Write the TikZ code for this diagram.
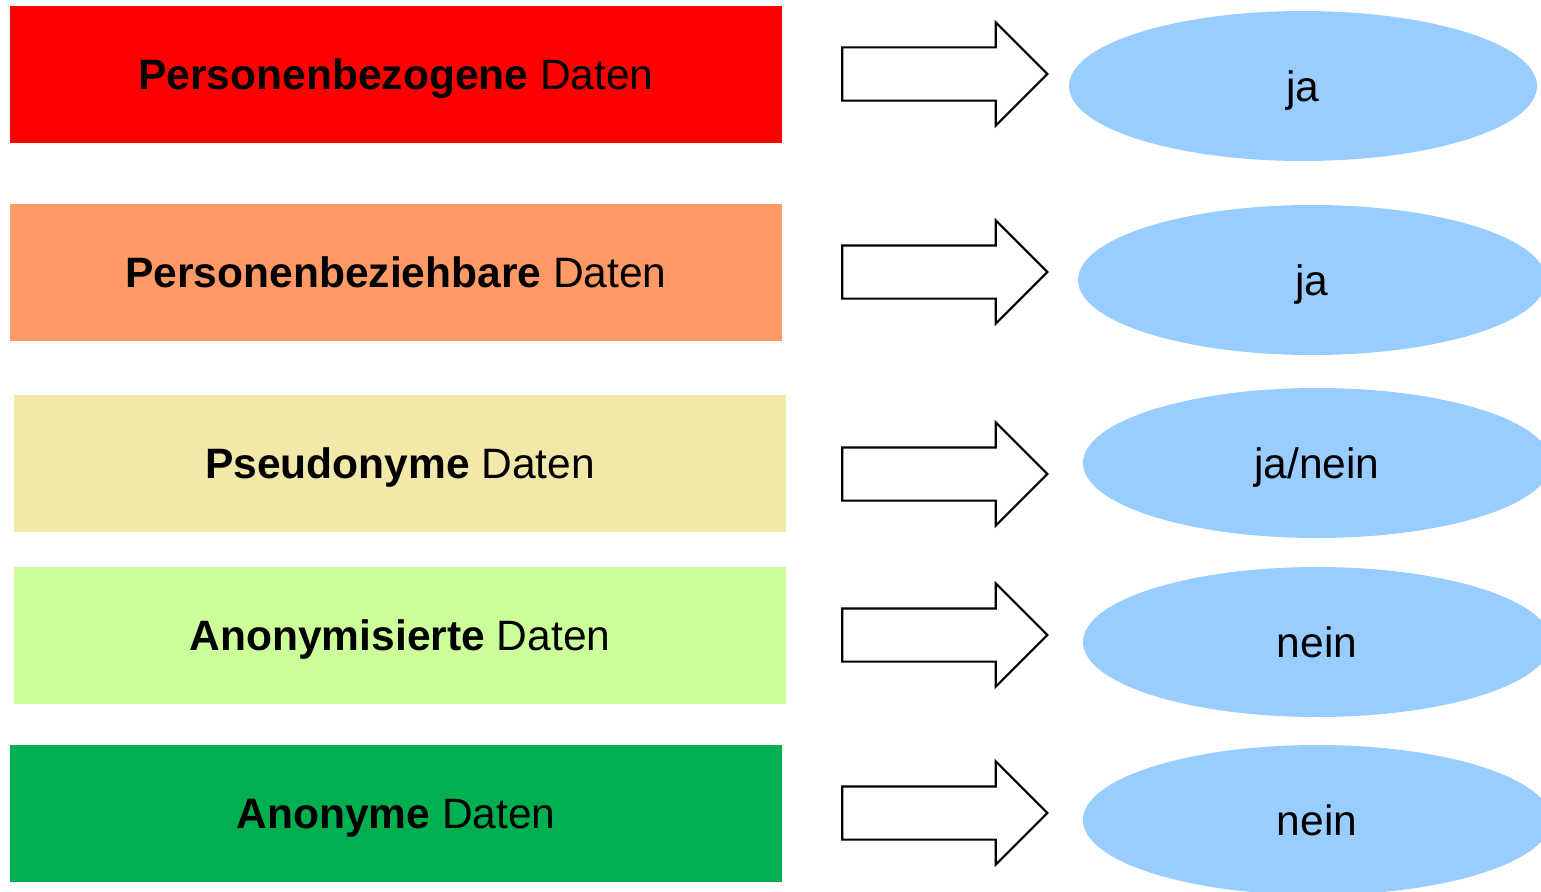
\documentclass[tikz,border=0pt]{standalone}
\usepackage{fontspec}
\setmainfont{Liberation Sans}
\usepackage{tikz}
\usetikzlibrary{shapes.geometric,shapes.arrows}
\definecolor{orangebox}{HTML}{FF9966}
\definecolor{yellowbox}{HTML}{F2E8AA}
\definecolor{lightgreenbox}{HTML}{CCFF99}
\definecolor{greenbox}{HTML}{00B050}
\definecolor{answerblue}{HTML}{99CCFF}
\tikzset{
  databox/.style={rectangle,minimum width=7.72cm,minimum height=1.37cm,inner sep=0pt,text height=8.7pt,text depth=0pt,font=\fontsize{12.1}{14}\selectfont},
  bigarrow/.style={single arrow,draw=black,fill=white,line width=0.6pt,minimum height=2.05cm,inner xsep=0pt,inner ysep=0.255cm,single arrow head extend=0.25cm},
  answer/.style={ellipse,fill=answerblue,minimum width=4.68cm,minimum height=1.5cm,inner sep=0pt,text height=8.7pt,text depth=0pt,font=\fontsize{12.1}{14}\selectfont}
}
\begin{document}
\begin{tikzpicture}
      \useasboundingbox (0,0) rectangle (15.41,8.91);
      \clip (0,0) rectangle (15.41,8.91);
      \node [databox,fill=red] (pbez) at (3.96,8.165) {\textbf{Personenbezogene} Daten};
      \node [databox,fill=orangebox] (pbeh) at (3.96,6.19) {\textbf{Personenbeziehbare} Daten};
      \node [databox,fill=yellowbox] (pseu) at (4.00,4.28) {\textbf{Pseudonyme} Daten};
      \node [databox,fill=lightgreenbox] (anonym) at (4.00,2.56) {\textbf{Anonymisierte} Daten};
      \node [databox,fill=greenbox] (anon) at (3.96,0.78) {\textbf{Anonyme} Daten};
      \node [bigarrow] (pfeil1) at (9.315,8.17) {};
      \node [bigarrow] (pfeil2) at (9.315,6.19) {};
      \node [bigarrow] (pfeil3) at (9.315,4.17) {};
      \node [bigarrow] (pfeil4) at (9.315,2.56) {};
      \node [bigarrow] (pfeil5) at (9.315,0.78) {};
      \node [answer] (ant1) at (13.03,8.05) {ja};
      \node [answer] (ant2) at (13.12,6.11) {ja};
      \node [answer] (ant3) at (13.17,4.28) {ja/nein};
      \node [answer] (ant4) at (13.17,2.49) {nein};
      \node [answer] (ant5) at (13.17,0.71) {nein};
    \end{tikzpicture}
\end{document}
